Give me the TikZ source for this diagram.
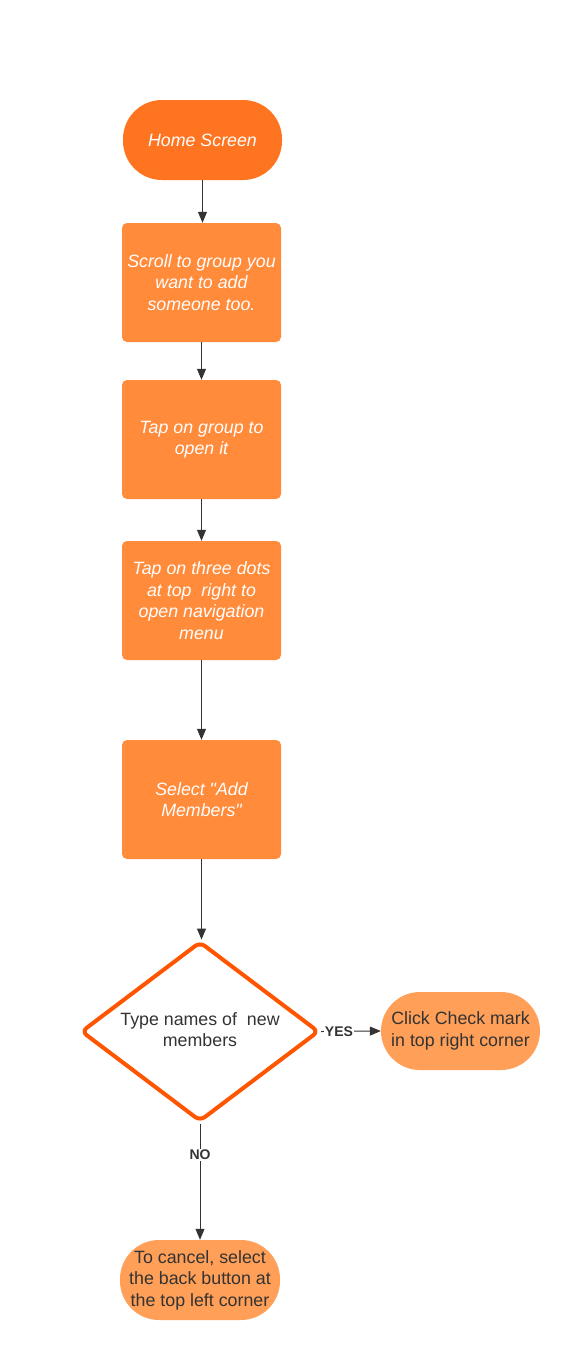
\documentclass[tikz,border=0pt]{standalone}
\usepackage{fontspec}
\setmainfont{Liberation Sans}
\usetikzlibrary{shapes.geometric,arrows.meta}
\definecolor{homeor}{HTML}{FF7421}
\definecolor{boxor}{HTML}{FF8B3B}
\definecolor{pillor}{HTML}{FF9F58}
\definecolor{diaor}{HTML}{FF5500}
\definecolor{ink}{HTML}{333333}
\tikzset{
  basefont/.style={font=\fontsize{17.8}{21.5}\selectfont},
  pill/.style={basefont, rectangle, rounded corners=39pt, draw=none, minimum width=159pt, minimum height=80pt, align=center, inner sep=0pt},
  stepbox/.style={rectangle, rounded corners=5pt, fill=boxor, text=white, minimum width=159pt, minimum height=119pt, align=center, inner sep=0pt, font=\fontsize{17.8}{21.5}\selectfont\itshape},
  decision/.style={diamond, draw=diaor, line width=4pt, rounded corners=6pt, fill=white, minimum width=238pt, minimum height=180pt, inner sep=0pt},
  dtextstyle/.style={basefont, text=ink, align=center, inner sep=0pt},
  conn/.style={draw=ink, line width=1pt, -{Triangle[length=11pt,width=9pt]}},
  elabel/.style={font=\fontsize{14}{16}\selectfont\bfseries, text=ink, fill=white, inner sep=1pt}
}
\begin{document}
\begin{tikzpicture}[x=1pt,y=-1pt]
\useasboundingbox[fill=white] (0,0) rectangle (585,1360);
\node[pill, fill=homeor, text=white, font=\fontsize{17.8}{21.5}\selectfont\itshape] (home) at (202.5,140) {Home Screen};
\node[stepbox] (s1) at (201.5,282.5) {Scroll to group you\\want to add\\someone too.};
\node[stepbox] (s2) at (201.5,439.5) {Tap on group to\\open it};
\node[stepbox] (s3) at (201.5,600.5) {Tap on three dots\\at top~ right to\\open navigation\\menu};
\node[stepbox] (s4) at (201.5,799.5) {Select \textquotedbl Add\\Members\textquotedbl};
\node[decision] (d) at (200,1031.5) {};
\node[dtextstyle] (dt) at ([yshift=2pt]d.center) {Type names of~ new\\members};
\node[pill, fill=pillor, text=ink, minimum height=78pt] (yes) at (460.5,1031) {Click Check mark\\in top right corner};
\node[pill, fill=pillor, text=ink, minimum width=160pt] (no) at (200,1280) {To cancel, select\\the back button at\\the top left corner};
\draw[conn] (home.south) -- (home.south |- s1.north);
\draw[conn] (s1.south) -- (s2.north);
\draw[conn] (s2.south) -- (s3.north);
\draw[conn] (s3.south) -- (s4.north);
\draw[conn] (s4.south) -- (s4.south |- d.north);
\draw[conn] (d.east) -- node[elabel, pos=0.3] {YES} (yes.west);
\draw[conn] (d.south) -- node[elabel, pos=0.27] {NO} (no.north);
\end{tikzpicture}
\end{document}
